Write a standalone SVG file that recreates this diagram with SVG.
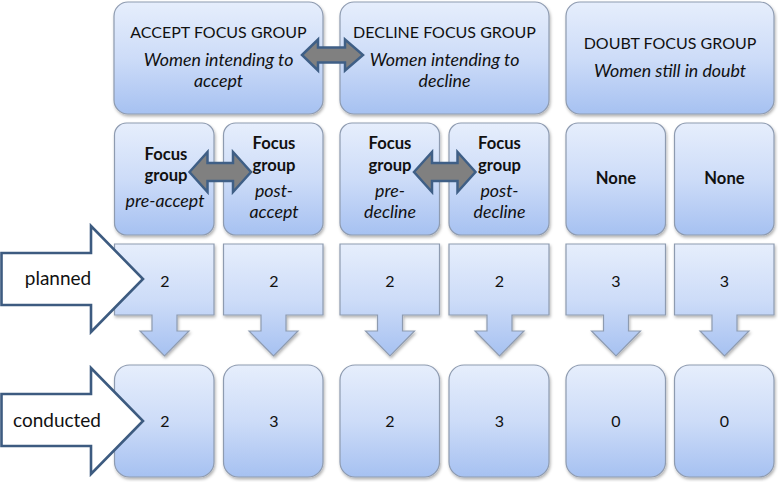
<svg xmlns="http://www.w3.org/2000/svg" width="778" height="482" viewBox="0 0 778 482">
<defs>
<linearGradient id="bg" x1="0" y1="0" x2="0" y2="1">
<stop offset="0" stop-color="#e6eefc"/>
<stop offset="0.5" stop-color="#cddcf8"/>
<stop offset="1" stop-color="#a6c1f1"/>
</linearGradient>
<filter id="sh" x="-10%" y="-10%" width="120%" height="125%">
<feDropShadow dx="1" dy="2" stdDeviation="1.5" flood-color="#000" flood-opacity="0.3"/>
</filter>
<style>
.box{fill:url(#bg);stroke:#8e9bb0;stroke-width:1.2;filter:url(#sh)}
.blk{fill:#fff;stroke:#3d5b80;stroke-width:2.6;stroke-linejoin:miter}
.dbl{fill:#808080;stroke:#3f5f86;stroke-width:2.5;stroke-linejoin:miter}
text{font-family:Lato,"Liberation Sans",sans-serif;font-size:16px;fill:#111;text-anchor:middle}
.b{font-weight:bold;font-size:16.6px}
.i{font-style:italic;font-size:17.8px}
.h{font-size:16px}
.l{font-size:19px}
</style>
</defs>
<rect width="778" height="482" fill="#fff"/>

<g id="accept-group"><rect class="box" x="114" y="2" width="209" height="112" rx="14"/>
<text class="h" x="218.5" y="38">ACCEPT FOCUS GROUP</text>
<text class="i" x="218.5" y="66">Women intending to</text>
<text class="i" x="218.5" y="87">accept</text></g>

<g id="decline-group"><rect class="box" x="340" y="2" width="209" height="112" rx="14"/>
<text class="h" x="444.5" y="38">DECLINE FOCUS GROUP</text>
<text class="i" x="444.5" y="66">Women intending to</text>
<text class="i" x="444.5" y="87">decline</text></g>

<g id="doubt-group"><rect class="box" x="566" y="2" width="208" height="112" rx="14"/>
<text class="h" x="670" y="49">DOUBT FOCUS GROUP</text>
<text class="i" x="670" y="77">Women still in doubt</text></g>

<g id="pre-accept"><rect class="box" x="114.5" y="123" width="99.5" height="112" rx="12"/>
<text class="b" x="166" y="160">Focus</text>
<text class="b" x="166" y="181">group</text>
<text class="i" x="165" y="207">pre-accept</text></g>

<g id="post-accept"><rect class="box" x="223.5" y="123" width="99.5" height="112" rx="12"/>
<text class="b" x="274" y="149">Focus</text>
<text class="b" x="274" y="171">group</text>
<text class="i" x="274" y="197">post-</text>
<text class="i" x="274" y="218">accept</text></g>

<g id="pre-decline"><rect class="box" x="340" y="123" width="99.5" height="112" rx="12"/>
<text class="b" x="390" y="149">Focus</text>
<text class="b" x="390" y="171">group</text>
<text class="i" x="390" y="197">pre-</text>
<text class="i" x="390" y="218">decline</text></g>

<g id="post-decline"><rect class="box" x="449" y="123" width="100" height="112" rx="12"/>
<text class="b" x="499.5" y="149">Focus</text>
<text class="b" x="499.5" y="171">group</text>
<text class="i" x="499.5" y="197">post-</text>
<text class="i" x="499.5" y="218">decline</text></g>

<g id="doubt-none-1"><rect class="box" x="566" y="123" width="99.5" height="112" rx="12"/>
<text class="b" x="616" y="184">None</text></g>

<g id="doubt-none-2"><rect class="box" x="674.5" y="123" width="99.5" height="112" rx="12"/>
<text class="b" x="724.5" y="184">None</text></g>

<g id="planned-1"><path class="box" d="M114.5,244 H214 V315 H177 V331 H189 L164.5,356 L140,331 H152 V315 H114.5 Z"/><text x="165" y="287">2</text></g>
<g id="planned-2"><path class="box" d="M223.5,244 H323 V315 H286 V331 H298 L273.5,356 L249,331 H261 V315 H223.5 Z"/><text x="274" y="287">2</text></g>
<g id="planned-3"><path class="box" d="M340,244 H439.5 V315 H402.5 V331 H414.5 L390,356 L365.5,331 H377.5 V315 H340 Z"/><text x="390" y="287">2</text></g>
<g id="planned-4"><path class="box" d="M449,244 H549 V315 H512 V331 H524 L499.5,356 L475,331 H487 V315 H449 Z"/><text x="499.5" y="287">2</text></g>
<g id="planned-5"><path class="box" d="M566,244 H665.5 V315 H628.5 V331 H640.5 L616,356 L591.5,331 H603.5 V315 H566 Z"/><text x="616" y="287">3</text></g>
<g id="planned-6"><path class="box" d="M674.5,244 H774 V315 H737 V331 H749 L724.5,356 L700,331 H712 V315 H674.5 Z"/><text x="724.5" y="287">3</text></g>

<g id="conducted-1"><rect class="box" x="114.5" y="365" width="99.5" height="112" rx="15"/><text x="165" y="427">2</text></g>
<g id="conducted-2"><rect class="box" x="223.5" y="365" width="99.5" height="112" rx="15"/><text x="274" y="427">3</text></g>
<g id="conducted-3"><rect class="box" x="340" y="365" width="99.5" height="112" rx="15"/><text x="390" y="427">2</text></g>
<g id="conducted-4"><rect class="box" x="449" y="365" width="100" height="112" rx="15"/><text x="499.5" y="427">3</text></g>
<g id="conducted-5"><rect class="box" x="566" y="365" width="99.5" height="112" rx="15"/><text x="616" y="427">0</text></g>
<g id="conducted-6"><rect class="box" x="674.5" y="365" width="99.5" height="112" rx="15"/><text x="724.5" y="427">0</text></g>

<g id="connectors">
<path class="blk" d="M1.5,253 H91 V226 L143,279 L91,332 V305 H1.5 Z"/>
<path class="blk" d="M1.5,394 H91 V368 L143,421 L91,474 V446 H1.5 Z"/>
<path class="dbl" d="M302,55 L318,39.5 V47.5 H345 V39.5 L363,55 L345,70.5 V62.5 H318 V70.5 Z"/>
<path class="dbl" d="M189.5,172 L207.5,152 V163 H233 V152 L251,172 L233,192 V181 H207.5 V192 Z"/>
<path class="dbl" d="M414,172 L432,152 V163 H457.5 V152 L475.5,172 L457.5,192 V181 H432 V192 Z"/>
</g>

<g id="labels">
<text class="l" x="58" y="285">planned</text>
<text class="l" x="57" y="427">conducted</text>
</g>
</svg>
